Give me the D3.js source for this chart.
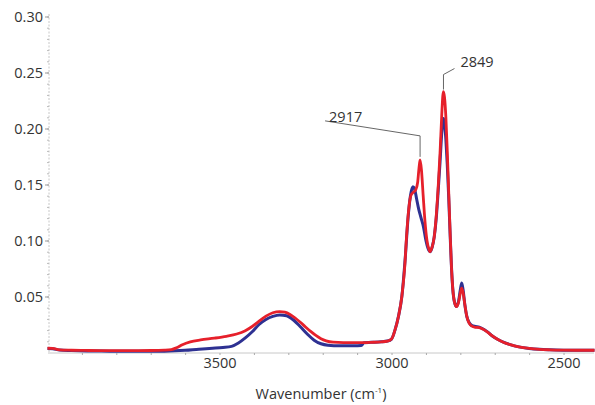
<!DOCTYPE html>
<html>
<head>
<meta charset="utf-8">
<script src="https://cdn.jsdelivr.net/npm/d3@7"></script>
<style>
  body { margin: 0; background: #fff; }
  text { font-family: "Open Sans", sans-serif; fill: #333; }
</style>
</head>
<body>
<svg id="chart" width="595" height="405"></svg>
<script>
// FTIR absorbance spectra, two samples (red and blue traces)
const redWavenumber = [4000, 3985, 3965, 3930, 3880, 3820, 3760, 3700, 3660, 3640, 3625, 3608, 3585, 3555, 3515, 3480, 3450, 3425, 3405, 3385, 3365, 3345, 3325, 3310, 3295, 3280, 3265, 3250, 3235, 3220, 3205, 3190, 3170, 3140, 3100, 3060, 3030, 3012, 3000, 2990, 2980, 2970, 2962, 2956, 2950, 2944, 2937, 2930, 2924, 2920, 2917, 2913, 2908, 2903, 2897, 2891, 2888, 2882, 2876, 2870, 2864, 2859, 2854, 2851, 2849, 2846, 2842, 2838, 2834, 2830, 2826, 2822, 2817, 2811, 2805, 2800, 2796, 2792, 2787, 2781, 2774, 2766, 2756, 2745, 2735, 2722, 2708, 2692, 2675, 2655, 2630, 2600, 2570, 2540, 2500, 2460, 2410];
const redAbsorbance = [0.0038, 0.0036, 0.0024, 0.0020, 0.0018, 0.0017, 0.0017, 0.0018, 0.0021, 0.0026, 0.0042, 0.0070, 0.0095, 0.0112, 0.0128, 0.0145, 0.0165, 0.0195, 0.0232, 0.0280, 0.0325, 0.0355, 0.0365, 0.0360, 0.0340, 0.0308, 0.0270, 0.0228, 0.0188, 0.0152, 0.0123, 0.0104, 0.0092, 0.0088, 0.0088, 0.0091, 0.0095, 0.0102, 0.0120, 0.0200, 0.0320, 0.0500, 0.0750, 0.1050, 0.1280, 0.1400, 0.1430, 0.1450, 0.1520, 0.1650, 0.1720, 0.1630, 0.1400, 0.1180, 0.1000, 0.0920, 0.0900, 0.0940, 0.1030, 0.1220, 0.1500, 0.1780, 0.2120, 0.2290, 0.2330, 0.2280, 0.2100, 0.1800, 0.1450, 0.1100, 0.0780, 0.0570, 0.0450, 0.0410, 0.0450, 0.0530, 0.0575, 0.0535, 0.0430, 0.0320, 0.0260, 0.0235, 0.0225, 0.0222, 0.0210, 0.0185, 0.0150, 0.0118, 0.0092, 0.0070, 0.0050, 0.0036, 0.0028, 0.0024, 0.0021, 0.0020, 0.0020];

const blueWavenumber = [4000, 3985, 3965, 3930, 3880, 3820, 3760, 3700, 3660, 3630, 3600, 3560, 3520, 3490, 3465, 3445, 3425, 3405, 3385, 3365, 3345, 3325, 3305, 3285, 3265, 3245, 3225, 3205, 3185, 3150, 3110, 3088, 3080, 3060, 3030, 3012, 3000, 2990, 2980, 2970, 2960, 2952, 2945, 2938, 2933, 2927, 2921, 2914, 2907, 2900, 2894, 2888, 2882, 2876, 2870, 2864, 2859, 2854, 2851, 2849, 2846, 2842, 2838, 2834, 2830, 2826, 2822, 2817, 2811, 2805, 2800, 2796, 2792, 2787, 2781, 2774, 2766, 2756, 2745, 2735, 2722, 2708, 2692, 2675, 2655, 2630, 2600, 2570, 2540, 2500, 2460, 2410];
const blueAbsorbance = [0.0036, 0.0034, 0.0022, 0.0018, 0.0014, 0.0012, 0.0011, 0.0011, 0.0012, 0.0015, 0.0020, 0.0030, 0.0038, 0.0045, 0.0055, 0.0085, 0.0130, 0.0185, 0.0250, 0.0295, 0.0322, 0.0335, 0.0328, 0.0290, 0.0230, 0.0165, 0.0110, 0.0078, 0.0065, 0.0060, 0.0060, 0.0062, 0.0088, 0.0091, 0.0095, 0.0102, 0.0120, 0.0200, 0.0320, 0.0500, 0.0850, 0.1200, 0.1400, 0.1480, 0.1460, 0.1370, 0.1280, 0.1200, 0.1120, 0.1000, 0.0930, 0.0900, 0.0940, 0.1030, 0.1200, 0.1460, 0.1700, 0.1960, 0.2060, 0.2090, 0.2050, 0.1900, 0.1680, 0.1400, 0.1080, 0.0780, 0.0570, 0.0450, 0.0410, 0.0460, 0.0560, 0.0620, 0.0560, 0.0430, 0.0320, 0.0265, 0.0240, 0.0232, 0.0226, 0.0212, 0.0186, 0.0150, 0.0118, 0.0092, 0.0070, 0.0050, 0.0036, 0.0028, 0.0024, 0.0021, 0.0020, 0.0020];

const xMajorTicks = [3500, 3000, 2500];
const xMinorTicks = d3.range(3900, 2400, -100);
const yMajorTicks = [0.05, 0.10, 0.15, 0.20, 0.25, 0.30];
const yMinorTicks = d3.range(0.01, 0.305, 0.01);
const peakLabels = [2917, 2849];
const xTitle = "Wavenumber (cm";

const fontSize = 14.5;
const svg = d3.select("#chart");
svg.append("rect").attr("width", 595).attr("height", 405).attr("fill", "#fff");

const x = d3.scaleLinear().domain([4000, 2410]).range([47.5, 594.5]);
const y = d3.scaleLinear().domain([0, 0.30]).range([352.5, 16.5]);

// axes
const gx = svg.append("g").attr("transform", "translate(0,353)");
gx.append("line").attr("x1", 48).attr("x2", 594).attr("stroke", "#c8c8c8").attr("stroke-width", 1);
gx.append("g")
  .call(d3.axisBottom(x).tickValues(xMinorTicks).tickSize(2).tickFormat(""))
  .call(g => g.select(".domain").remove())
  .call(g => g.selectAll("line").attr("stroke", "#aaa"));
gx.append("g")
  .call(d3.axisBottom(x).tickValues(xMajorTicks).tickSize(0).tickPadding(5).tickFormat(d3.format("d")))
  .call(g => g.select(".domain").remove())
  .call(g => g.selectAll("text").attr("font-size", fontSize).attr("fill", "#333").attr("font-family", '"Open Sans", sans-serif'));

const gy = svg.append("g").attr("transform", "translate(49,0)");
gy.append("line").attr("y1", 14).attr("y2", 352).attr("stroke", "#c8c8c8").attr("stroke-dasharray", "2,1.5");
gy.append("g")
  .call(d3.axisLeft(y).tickValues(yMinorTicks).tickSize(2).tickFormat(""))
  .call(g => g.select(".domain").remove())
  .call(g => g.selectAll("line").attr("stroke", "#bbb"));
gy.append("g")
  .call(d3.axisLeft(y).tickValues(yMajorTicks).tickSize(4).tickPadding(2).tickFormat(d3.format(".2f")))
  .call(g => g.select(".domain").remove())
  .call(g => g.selectAll("line").attr("stroke", "#999"))
  .call(g => g.selectAll("text").attr("font-size", fontSize).attr("fill", "#333").attr("font-family", '"Open Sans", sans-serif'));

// axis title
const title = svg.append("text").attr("x", 321).attr("y", 399).attr("text-anchor", "middle")
  .attr("font-size", fontSize);
title.append("tspan").text(xTitle);
title.append("tspan").attr("font-size", 8).attr("dy", -6).text("-1");
title.append("tspan").attr("dy", 6).text(")");

// spectra
const line = d3.line().x(d => x(d[0])).y(d => y(d[1])).curve(d3.curveMonotoneX);
const blue = d3.zip(blueWavenumber, blueAbsorbance);
const red = d3.zip(redWavenumber, redAbsorbance);

svg.append("path").datum(blue).attr("d", line)
  .attr("fill", "none").attr("stroke", "#2e3192").attr("stroke-width", 3).attr("stroke-linejoin", "round");
svg.append("path").datum(red).attr("d", line)
  .attr("fill", "none").attr("stroke", "#e6202b").attr("stroke-width", 2.8).attr("stroke-linejoin", "round");

// peak annotations with leader lines
const peakValue = wn => redAbsorbance[redWavenumber.indexOf(wn)];
const ann = svg.append("g").attr("fill", "none").attr("stroke", "#555").attr("stroke-width", 0.9);

// 2917: vertical up from the peak, then back to the left under the label
{
  const px = x(peakLabels[0]), py = y(peakValue(peakLabels[0]));
  ann.append("polyline").attr("points", [[px, py - 3], [px, py - 24], [px - 95, py - 39]].join(" "));
  svg.append("text").attr("x", px - 91).attr("y", py - 38).attr("font-size", fontSize).text(peakLabels[0]);
}
// 2849: vertical up from the peak, then up to the right
{
  const px = x(peakLabels[1]), py = y(peakValue(peakLabels[1]));
  ann.append("polyline").attr("points", [[px, py - 2], [px, py - 17], [px + 11, py - 23]].join(" "));
  svg.append("text").attr("x", px + 17).attr("y", py - 25).attr("font-size", fontSize).text(peakLabels[1]);
}
</script>
</body>
</html>
